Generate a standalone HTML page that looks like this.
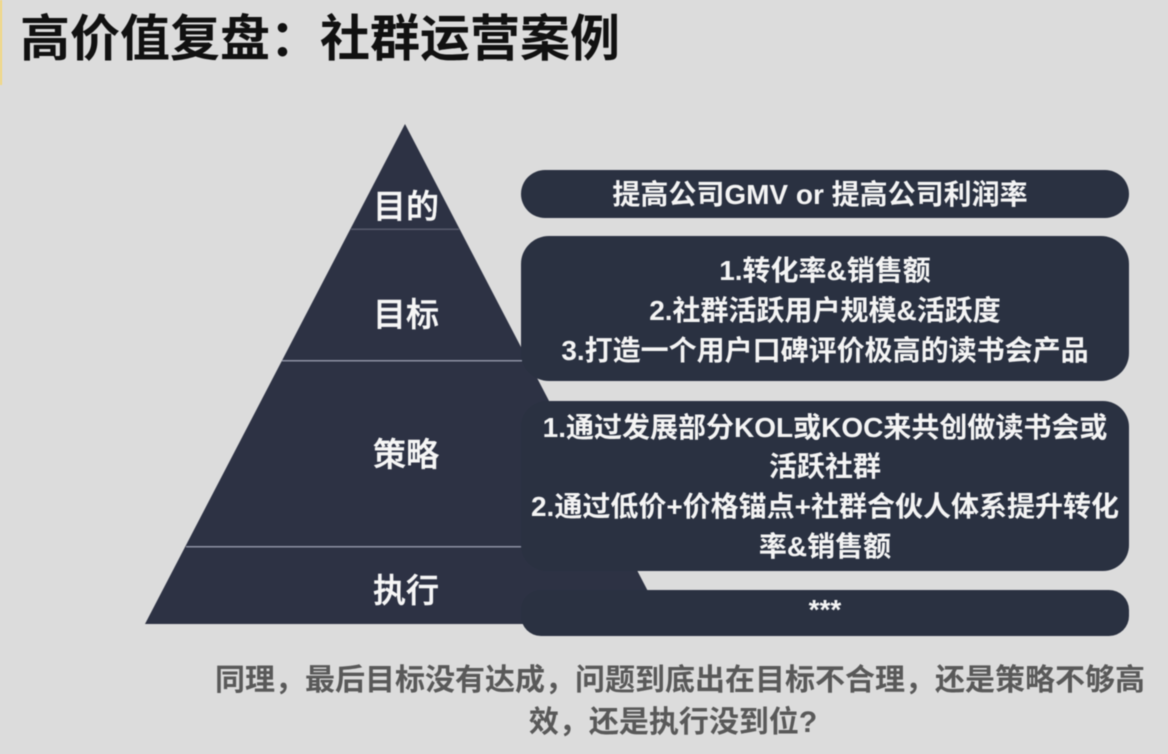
<!DOCTYPE html>
<html lang="zh">
<head>
<meta charset="utf-8">
<style>
html,body{margin:0;padding:0;width:1168px;height:754px;overflow:hidden;background:#dcdcdc}
svg{display:block;filter:blur(0.6px)}
text{font-family:"Liberation Sans","Noto Sans CJK SC",sans-serif;font-weight:700;text-anchor:middle}
.t{fill:#f4f4f4;font-size:28px}
.l{fill:#f6f6f6;font-size:33px;font-weight:500;stroke:#f6f6f6;stroke-width:0.5px}
.n{fill:#595959;font-size:30px}
</style>
</head>
<body>
<svg width="1168" height="754" viewBox="0 0 1168 754" xmlns="http://www.w3.org/2000/svg">
<rect width="1168" height="754" fill="#dcdcdc"/>
<rect x="0" y="0" width="2" height="85" fill="#f2d77e"/>
<text x="20" y="56" style="text-anchor:start;font-size:50px;fill:#111">高价值复盘：社群运营案例</text>
<polygon points="405,124 665,624 145,624" fill="#2d3244"/>
<rect x="351" y="228.500" width="108" height="1.500" fill="#565b6c"/>
<rect x="282" y="360" width="240" height="1.500" fill="#8d91a3"/>
<rect x="186" y="546" width="336" height="1.500" fill="#8d91a3"/>
<rect x="521" y="170" width="608" height="48" rx="24" fill="#2a3141"/>
<rect x="521" y="236" width="608" height="145" rx="28" fill="#2a3141"/>
<rect x="521" y="401" width="608" height="170" rx="26" fill="#2a3141"/>
<rect x="521" y="590" width="608" height="46" rx="20" fill="#2a3141"/>
<text class="l" x="406" y="218">目的</text>
<text class="l" x="406" y="326">目标</text>
<text class="l" x="406" y="466">策略</text>
<text class="l" x="406" y="602">执行</text>
<text class="t" x="820" y="204">提高公司GMV or 提高公司利润率</text>
<text class="t" x="825" y="280">1.转化率&amp;销售额</text>
<text class="t" x="825" y="320">2.社群活跃用户规模&amp;活跃度</text>
<text class="t" x="825" y="360">3.打造一个用户口碑评价极高的读书会产品</text>
<text class="t" x="825" y="437">1.通过发展部分KOL或KOC来共创做读书会或</text>
<text class="t" x="825" y="476">活跃社群</text>
<text class="t" x="825" y="516">2.通过低价+价格锚点+社群合伙人体系提升转化</text>
<text class="t" x="825" y="556">率&amp;销售额</text>
<text class="t" x="825" y="619">***</text>
<text class="n" x="680" y="690">同理，最后目标没有达成，问题到底出在目标不合理，还是策略不够高</text>
<text class="n" x="673" y="732">效，还是执行没到位?</text>
</svg>
</body>
</html>
